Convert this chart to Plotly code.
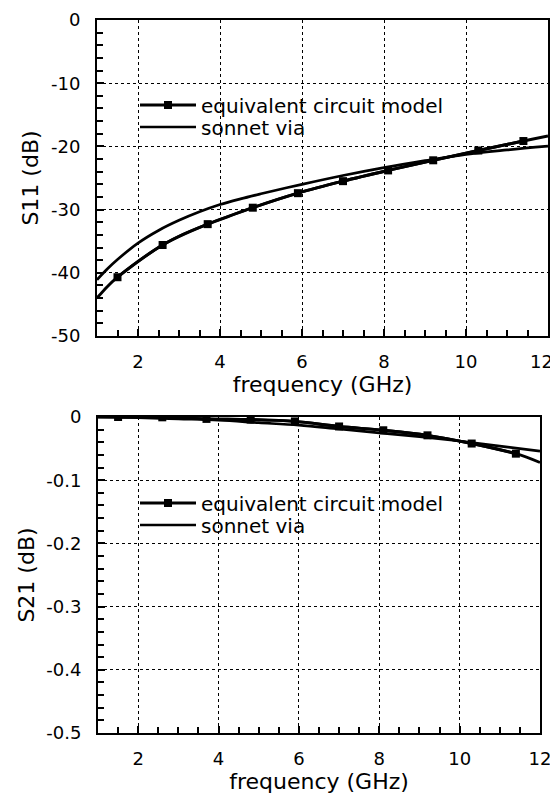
import plotly.graph_objects as go

# ---------------- data ----------------
# S11 (dB)
s11_model_freq = [1.0, 1.25, 1.5, 2.0, 2.6, 3.1, 3.7, 4.2, 4.8, 5.9, 7.0, 8.1, 9.2, 10.3, 11.4, 12.0]
s11_model_db = [-44.0, -42.2, -40.7, -38.2, -35.6, -33.9, -32.3, -31.1, -29.7, -27.4, -25.5, -23.8, -22.2, -20.65, -19.15, -18.35]
s11_marker_freq = [1.5, 2.6, 3.7, 4.8, 5.9, 7.0, 8.1, 9.2, 10.3, 11.4]
s11_marker_db = [-40.7, -35.6, -32.3, -29.7, -27.4, -25.5, -23.8, -22.2, -20.65, -19.15]

s11_sonnet_freq = [1.0, 1.25, 1.5, 2.0, 2.5, 3.0, 3.5, 4.0, 4.5, 5.0, 6.0, 7.0, 8.0, 9.0, 10.0, 11.0, 12.0]
s11_sonnet_db = [-41.1, -39.4, -37.9, -35.3, -33.3, -31.7, -30.35, -29.2, -28.3, -27.5, -26.0, -24.6, -23.35, -22.25, -21.25, -20.55, -19.95]

# S21 (dB)
s21_model_freq = [1.0, 1.5, 2.6, 3.7, 4.8, 5.9, 7.0, 8.1, 9.2, 10.3, 11.4, 12.0]
s21_model_db = [0.0, 0.0, -0.0005, -0.003, -0.004, -0.007, -0.015, -0.021, -0.029, -0.042, -0.058, -0.072]
s21_marker_freq = [1.5, 2.6, 3.7, 4.8, 5.9, 7.0, 8.1, 9.2, 10.3, 11.4]
s21_marker_db = [0.0, -0.0005, -0.003, -0.004, -0.007, -0.015, -0.021, -0.029, -0.042, -0.058]

s21_sonnet_freq = [1.0, 2.0, 3.0, 4.0, 5.0, 6.0, 7.0, 8.0, 9.0, 10.0, 11.0, 12.0]
s21_sonnet_db = [0.0, -0.001, -0.003, -0.005, -0.009, -0.013, -0.019, -0.025, -0.031, -0.038, -0.046, -0.054]

# ticks
x_tickvals_top = [2, 4, 6, 8, 10]
x_ticktext_top = ["2", "4", "6", "8", "10"]
x_edge_val = 12            # top panel's last label sits at the page edge (placed as a label)
x_edge_text = "12"
x_tickvals_bot = [2, 4, 6, 8, 10, 12]
x_ticktext_bot = ["2", "4", "6", "8", "10", "12"]
s11_tickvals = [0, -10, -20, -30, -40, -50]
s11_ticktext = ["0", "-10", "-20", "-30", "-40", "-50"]
s21_tickvals = [0, -0.1, -0.2, -0.3, -0.4, -0.5]
s21_ticktext = ["0", "-0.1", "-0.2", "-0.3", "-0.4", "-0.5"]

name_model = "equivalent circuit model"
name_sonnet = "sonnet via"
x_title = "frequency (GHz)"
y_title_top = "S11 (dB)"
y_title_bot = "S21 (dB)"

# ---------------- figure ----------------
FONT = "DejaVu Sans"
PAGE_OFF = 8              # default body margin of the html page
W, H = 558 - PAGE_OFF, 795 - PAGE_OFF


def dx(px):
    return (px - PAGE_OFF) / W


def dy(py):
    return 1 - (py - PAGE_OFF) / H


fig = go.Figure()


def add_panel(xa, ya, mf, mv, kf, kv, sf, sv, leg_model, leg_sonnet):
    fig.add_trace(go.Scatter(x=sf, y=sv, mode="lines", name=name_sonnet,
                             line=dict(color="black", width=2.7, shape="spline"),
                             xaxis=xa, yaxis=ya, legend=leg_sonnet))
    fig.add_trace(go.Scatter(x=mf, y=mv, mode="lines", showlegend=False,
                             line=dict(color="black", width=2.9, shape="spline"),
                             xaxis=xa, yaxis=ya, hoverinfo="skip"))
    fig.add_trace(go.Scatter(x=kf, y=kv, mode="lines+markers", name=name_model,
                             line=dict(color="black", width=2.9, shape="spline"),
                             marker=dict(symbol="square", size=8, color="black"),
                             xaxis=xa, yaxis=ya, legend=leg_model))


add_panel("x", "y", s11_model_freq, s11_model_db, s11_marker_freq, s11_marker_db,
          s11_sonnet_freq, s11_sonnet_db, "legend", "legend2")
add_panel("x2", "y2", s21_model_freq, s21_model_db, s21_marker_freq, s21_marker_db,
          s21_sonnet_freq, s21_sonnet_db, "legend3", "legend4")


def xaxis_cfg(domain, anchor, tickvals, ticktext):
    return dict(
        domain=domain, anchor=anchor, range=[1, 12],
        tickmode="array", tickvals=tickvals, ticktext=ticktext,
        showline=True, linecolor="black", linewidth=2, mirror=True,
        ticks="inside", ticklen=7, tickwidth=1.5, tickcolor="black",
        showgrid=True, gridcolor="black", gridwidth=1, griddash="dot",
        zeroline=False, automargin=False, ticklabeloverflow="allow",
        minor=dict(dtick=0.5, tick0=0, ticks="inside", ticklen=6, tickwidth=1.5,
                   tickcolor="black", showgrid=False),
        tickfont=dict(family=FONT, size=18, color="black"),
        ticklabelstandoff=8,
        title=dict(text=x_title, font=dict(family=FONT, size=22, color="black"), standoff=4),
    )


def yaxis_cfg(domain, anchor, rng, tv, tt, minor_dtick, title):
    return dict(
        domain=domain, anchor=anchor, range=rng,
        tickmode="array", tickvals=tv, ticktext=tt,
        showline=True, linecolor="black", linewidth=2, mirror=True,
        ticks="inside", ticklen=7, tickwidth=1.5, tickcolor="black",
        showgrid=True, gridcolor="black", gridwidth=1, griddash="dot",
        zeroline=False, automargin=False, ticklabeloverflow="allow",
        minor=dict(dtick=minor_dtick, tick0=0, ticks="inside", ticklen=6, tickwidth=1.5,
                   tickcolor="black", showgrid=False),
        tickfont=dict(family=FONT, size=18, color="black"),
        ticklabelstandoff=11,
        title=dict(text=title, font=dict(family=FONT, size=22, color="black"), standoff=6),
    )


def legend_cfg(x, y):
    return dict(x=x, y=y, xanchor="left", yanchor="middle", xref="paper", yref="paper",
                bgcolor="rgba(0,0,0,0)", borderwidth=0, itemwidth=56,
                font=dict(family=FONT, size=20, color="black"))


fig.update_layout(
    width=W, height=H,
    margin=dict(l=0, r=0, t=0, b=0, autoexpand=False),
    paper_bgcolor="white", plot_bgcolor="white",
    font=dict(family=FONT, color="black"),
    xaxis=xaxis_cfg([dx(97), dx(548)], "y", x_tickvals_top, x_ticktext_top),
    yaxis=yaxis_cfg([dy(336), dy(20)], "x", [-50, 0], s11_tickvals, s11_ticktext, 2, y_title_top),
    xaxis2=xaxis_cfg([dx(98), dx(540)], "y2", x_tickvals_bot, x_ticktext_bot),
    yaxis2=yaxis_cfg([dy(733), dy(417)], "x2", [-0.5, 0], s21_tickvals, s21_ticktext, 0.02, y_title_bot),
    legend=legend_cfg(dx(135), dy(105)),
    legend2=legend_cfg(dx(135), dy(127)),
    legend3=legend_cfg(dx(135), dy(503)),
    legend4=legend_cfg(dx(135), dy(525)),
    annotations=[dict(
        x=x_edge_val, xref="x", y=0, yref="y domain", text=x_edge_text,
        xanchor="right", yanchor="middle", xshift=7, yshift=-25, showarrow=False,
        font=dict(family=FONT, size=18, color="black"),
    )],
)

fig.write_html("out.html")
